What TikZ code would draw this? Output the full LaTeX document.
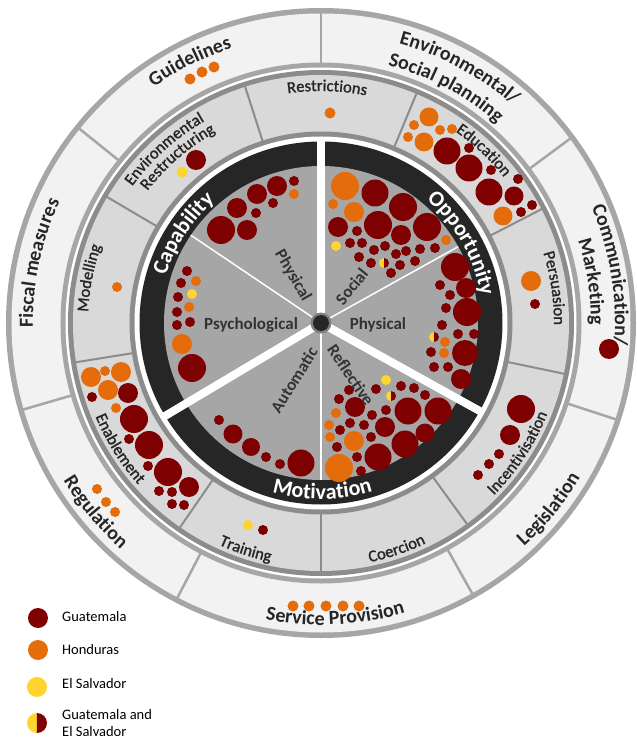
\documentclass[tikz,border=0pt]{standalone}
\usepackage{fontspec}
\setmainfont{Carlito}
\newfontfamily\semifam[FakeBold=1.4]{Carlito}
\usetikzlibrary{decorations.text}
\definecolor{gtm}{HTML}{7F0000}
\definecolor{hnd}{HTML}{E46C0A}
\definecolor{slv}{HTML}{FFD42E}
\definecolor{ringdark}{HTML}{262626}
\definecolor{diskgray}{HTML}{A6A6A6}
\definecolor{midband}{HTML}{D9D9D9}
\definecolor{outband}{HTML}{F2F2F2}
\definecolor{bordA}{HTML}{A6A6A6}
\definecolor{bordB}{HTML}{8C8C8C}
\definecolor{txt}{HTML}{262626}
\definecolor{txtin}{HTML}{333333}
\definecolor{hubring}{HTML}{7F7F7F}
% bubbles in pixel coordinates of the reference (centre of wheel = 321,323)
\newcommand{\bub}[4]{\fill[#4] ({#1-321},{323-#2}) circle (#3pt);}
\newcommand{\bubG}[3]{\bub{#1}{#2}{#3}{gtm}}
\newcommand{\bubH}[3]{\bub{#1}{#2}{#3}{hnd}}
\newcommand{\bubS}[3]{\bub{#1}{#2}{#3}{slv}}
\newcommand{\bubGS}[3]{%
  \fill[slv] ({#1-321},{323-#2+#3}) arc[start angle=90,end angle=270,radius=#3pt] -- cycle;
  \fill[gtm] ({#1-321},{323-#2-#3}) arc[start angle=-90,end angle=90,radius=#3pt] -- cycle;}
% text along arcs
\newcommand{\outerfont}{\bfseries\fontsize{20}{24}\selectfont}
\newcommand{\midfont}{\semifam\fontsize{16.5}{20}\selectfont}
\newcommand{\combfont}{\bfseries\fontsize{22}{26}\selectfont}
\newcommand{\arccw}[5]{%
  \path[decorate,decoration={text along path,text align=center,text color=#4,text={|#3|#5}}]
    ({#2+80}:#1pt) arc[start angle={#2+80},end angle={#2-80},radius=#1pt];}
\newcommand{\arcccw}[5]{%
  \path[decorate,decoration={text along path,text align=center,text color=#4,text={|#3|#5}}]
    ({#2-80}:#1pt) arc[start angle={#2-80},end angle={#2+80},radius=#1pt];}
\begin{document}
\begin{tikzpicture}[x=1pt,y=1pt,
  inlbl/.style={font=\bfseries\fontsize{17}{20}\selectfont, text=txtin, inner sep=0pt},
  leglbl/.style={font=\fontsize{14.5}{17.5}\selectfont, text=black, anchor=west, inner sep=0pt, align=left},
  outdiv/.style={bordA, line width=2.5pt},
  middiv/.style={bordB, line width=2pt},
  thinsep/.style={white, line width=1.5pt},
  thicksep/.style={white, line width=8pt}]
\useasboundingbox (-321,-416) rectangle (316,323);
% rings
\fill[bordA] (0,0) circle (315pt);
\fill[outband] (0,0) circle (309.5pt);
\fill[bordA] (0,0) circle (260.5pt);
\fill[white] (0,0) circle (255.5pt);
\fill[bordB] (0,0) circle (253pt);
\fill[midband] (0,0) circle (248pt);
\fill[bordB] (0,0) circle (191.5pt);
\fill[white] (0,0) circle (186.5pt);
\fill[ringdark] (0,0) circle (181.5pt);
\fill[diskgray] (0,0) circle (157pt);
% dividers
\foreach \a in {90,141.2,196.2,242.4,299.2,341.9,36.5} \draw[outdiv] (\a:260pt) -- (\a:310pt);
\foreach \a in {67.4,107.8,149.5,189.1,235.4,270,306,348.2,27.3} \draw[middiv] (\a:191pt) -- (\a:248.5pt);
\foreach \a in {146,29.1,270} \draw[thinsep] (0,0) -- (\a:157pt);
\foreach \a in {90,210.8,331} \draw[thicksep] (0,0) -- (\a:184pt);
% ---- bubbles: outer band
\bubH{190}{79}{5.5} \bubH{202}{72}{5.5} \bubH{214}{67}{5.5}
\bubG{609}{349}{10}
\bubH{97}{489}{5} \bubH{106}{502}{5} \bubH{115}{512}{5}
\bubH{293}{606}{5.5} \bubH{309}{606}{5.5} \bubH{326}{606}{5.5} \bubH{343}{606}{5.5} \bubH{359}{606}{5.5}
% ---- middle band
\bubH{330}{113}{5.5}
\bubG{196}{160}{10} \bubS{182}{172}{5.5}
\bubH{117}{287}{5}
\bubH{91}{377}{10} \bubH{105}{371}{5} \bubH{121}{372}{10} \bubH{108}{390}{10}
\bubG{92}{397}{5} \bubG{128}{393}{10} \bubH{116}{408}{5} \bubG{134}{419}{14}
\bubG{129}{439}{5} \bubG{149}{445}{14} \bubG{148}{466}{5} \bubG{168}{472}{14}
\bubG{189}{487}{10} \bubG{159}{491}{5} \bubG{172}{492}{5} \bubG{172}{504}{5} \bubG{184}{505}{5}
\bubS{248}{525}{5} \bubG{263}{530}{5}
\bubG{521}{409}{14} \bubG{510}{435}{10} \bubG{499}{454}{5} \bubG{489}{464}{5} \bubG{478}{475}{5}
\bubH{531}{281}{10} \bubG{535}{304}{5}
\bubH{429}{117}{9.5} \bubH{414}{125}{5} \bubH{440}{130}{5} \bubH{452}{129}{5} \bubH{408}{137}{5}
\bubH{424}{142}{9.5} \bubG{447}{151}{13.5} \bubG{469}{148}{5} \bubG{469}{168}{13.5} \bubG{491}{170}{5}
\bubG{489}{192}{13.5} \bubG{518}{179}{5} \bubG{514}{196}{9.5} \bubH{503}{216}{9.5} \bubG{521}{212}{5} \bubG{532}{205}{5}
% ---- capability physical
\bubG{221}{230}{14} \bubG{247}{230}{10} \bubG{237}{208}{10} \bubG{256}{213}{5} \bubG{257}{194}{10}
\bubG{273}{203}{5} \bubG{277}{186}{10} \bubG{294}{181}{5} \bubH{294}{194}{5}
% ---- capability psychological
\bubG{187}{271}{5} \bubH{196}{281}{5} \bubG{181}{283}{5} \bubS{192}{294}{5} \bubG{178}{297}{5}
\bubH{189}{307}{5} \bubG{177}{312}{5} \bubG{190}{322}{5} \bubG{177}{325}{5} \bubH{182}{344}{10} \bubG{192}{368}{14}
% ---- motivation automatic
\bubG{219}{420}{5} \bubG{233}{434}{9.5} \bubG{251}{447}{9} \bubG{266}{457}{5} \bubG{280}{464}{5} \bubG{301}{463}{13.5}
% ---- motivation reflective
\bubS{386}{380}{5} \bubG{376}{389}{5} \bubGS{391}{396}{5} \bubG{401}{386}{5} \bubG{414}{388}{5} \bubG{425}{395}{5}
\bubG{349}{390}{5} \bubG{339}{399}{5} \bubG{355}{407}{10} \bubG{372}{415}{5} \bubG{386}{410}{5}
\bubG{408}{411}{13.5} \bubG{438}{411}{13.5} \bubH{336}{413}{5} \bubG{350}{423}{5} \bubG{364}{425}{5}
\bubG{385}{427}{10} \bubH{329}{425}{5} \bubG{340}{430}{5} \bubG{425}{433}{9.5} \bubG{405}{444}{13.5}
\bubH{330}{437}{5} \bubG{371}{437}{5} \bubH{354}{441}{10} \bubG{337}{447}{5} \bubG{378}{457}{13.5}
\bubG{357}{457}{5} \bubH{339}{468}{14} \bubG{361}{471}{5}
% ---- opportunity physical
\bubG{455}{267}{14} \bubG{440}{285}{5} \bubG{466}{288}{10} \bubG{450}{295}{5} \bubG{446}{308}{5}
\bubG{467}{312}{14} \bubG{442}{325}{5} \bubGS{434}{337}{5} \bubG{458}{334}{5} \bubG{474}{334}{5}
\bubH{445}{342}{5} \bubG{431}{352}{5} \bubH{444}{353}{5} \bubG{465}{353}{13} \bubG{434}{367}{5}
\bubG{448}{367}{5} \bubG{461}{379}{10}
% ---- opportunity social
\bubH{345}{186}{14} \bubH{333}{204}{5} \bubH{354}{212}{10} \bubG{375}{193}{13.5} \bubG{403}{207}{14}
\bubG{378}{225}{14} \bubG{338}{227}{10} \bubG{357}{231}{5} \bubG{401}{235}{10} \bubG{427}{227}{14}
\bubH{446}{240}{5} \bubS{336}{246}{5} \bubG{350}{243}{5} \bubG{362}{243}{5} \bubG{374}{250}{5}
\bubG{385}{246}{5} \bubG{396}{254}{5} \bubG{406}{251}{5} \bubG{420}{249}{5} \bubG{435}{248}{5}
\bubG{359}{257}{5} \bubG{371}{263}{5} \bubGS{384}{263}{5} \bubG{400}{265}{5} \bubG{415}{261}{5} \bubG{391}{273}{5}
% ---- outer labels
\arccw{289}{116.6}{\outerfont}{txt}{Guidelines}
\arccw{290}{61.5}{\outerfont}{txt}{Environmental/}
\arccw{266}{62}{\outerfont}{txt}{Social planning}
\arccw{294}{9.4}{\outerfont}{txt}{Communication/}
\arccw{270}{8.7}{\outerfont}{txt}{Marketing}
\arcccw{302}{-39.3}{\outerfont}{txt}{Legislation}
\arcccw{302}{272.8}{\outerfont}{txt}{Service Provision}
\arcccw{302}{220}{\outerfont}{txt}{Regulation}
\arccw{288}{168}{\outerfont}{txt}{Fiscal measures}
% ---- middle labels
\arccw{232}{88.5}{\midfont}{txt}{Restrictions}
\arccw{234}{46.7}{\midfont}{txt}{Education}
\arccw{233}{8.5}{\midfont}{txt}{Persuasion}
\arcccw{244}{-33.4}{\midfont}{txt}{Incentivisation}
\arcccw{244}{-71.5}{\midfont}{txt}{Coercion}
\arcccw{244}{251.6}{\midfont}{txt}{Training}
\arcccw{244}{212}{\midfont}{txt}{Enablement}
\arccw{233}{169}{\midfont}{txt}{Modelling}
\arccw{233}{132}{\midfont}{txt}{Environmental}
\arccw{218}{130.8}{\midfont}{txt}{Restructuring}
% ---- COM-B labels
\arccw{162}{147}{\combfont}{white}{Capability}
\arccw{162}{29.5}{\combfont}{white}{Opportunity}
\arcccw{176}{270.5}{\combfont}{white}{Motivation}
% ---- inner labels
\node[inlbl, rotate=-60] (capphys) at (120.8:55) {Physical};
\node[inlbl] (capsych) at (181.6:70) {Psychological};
\node[inlbl, rotate=58] (autom) at (244.6:63) {Automatic};
\node[inlbl, rotate=-56] (reflec) at (300:60) {Reflective};
\node[inlbl] (oppphys) at (-2:57) {Physical};
\node[inlbl, rotate=51] (oppsoc) at (50:47.6) {Social};
% ---- hub
\fill[hubring] (0,0) circle (10.5pt);
\fill[ringdark] (0,0) circle (8pt);
% ---- legend
\bubG{38}{618}{10} \bubH{38}{650}{10} \bubS{37}{687}{10} \bubGS{37}{723}{10}
\node[leglbl] (lgG) at ({62-321},{323-617}) {Guatemala};
\node[leglbl] (lgH) at ({62-321},{323-650}) {Honduras};
\node[leglbl] (lgS) at ({62-321},{323-684}) {El Salvador};
\node[leglbl] (lgGS) at ({62-321},{323-723}) {Guatemala and\\El Salvador};
\end{tikzpicture}
\end{document}
